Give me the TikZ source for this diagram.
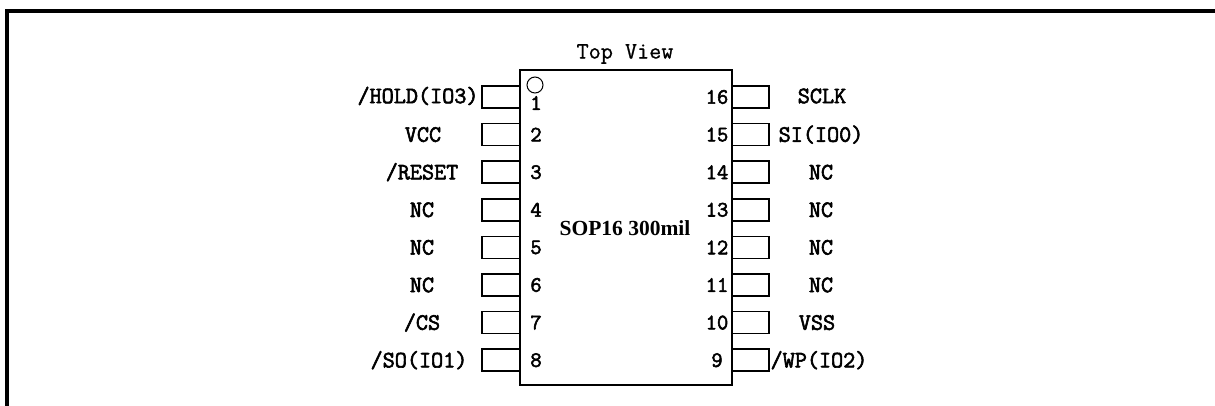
\documentclass[tikz,border=0pt]{standalone}
\usepackage{fontspec}
\setmainfont{Liberation Serif}
\setmonofont{Latin Modern Mono}
\newfontfamily\pinfont[FakeBold=2.5]{Latin Modern Mono}
\newfontfamily\titlefont[FakeBold=0.8]{Latin Modern Mono}
\usepackage{tikz,pgf}
\tikzset{
   outline/.style={line width=4pt, draw=black},
   chip/.style={line width=1.5pt, draw=black},
   pin/.style={line width=1.5pt, draw=black},
   pinlabel/.style={font=\pinfont\fontsize{23.5}{23.5}\selectfont, inner sep=0pt},
   pinnum/.style={font=\pinfont\fontsize{22}{22}\selectfont, inner sep=0pt},
   }
\begin{document}
\begin{tikzpicture}[x=1pt,y=-1pt]
            \useasboundingbox (0,0) rectangle (1215,406);
            \draw[outline](7,406)--(7,11)--(1215,11);
            \draw[chip](520,70)rectangle(732,385);
            \draw[line width=1pt] (535,85) circle (8);
            \node[font=\titlefont\fontsize{23.5}{23.5}\selectfont, inner sep=0pt] (title) at (625,54) {Top View};
            \node[font=\bfseries\fontsize{21.5}{21.5}\selectfont, inner sep=0pt] (package) at (625,228) {SOP16 300mil};
            % left side
            \draw[pin](520,86)--(482,86)--(482,108)--(520,108);
            \draw[pin](520,123.6)--(482,123.6)--(482,145.6)--(520,145.6);
            \draw[pin](520,161.2)--(482,161.2)--(482,183.2)--(520,183.2);
            \draw[pin](520,198.8)--(482,198.8)--(482,220.8)--(520,220.8);
            \draw[pin](520,236.4)--(482,236.4)--(482,258.4)--(520,258.4);
            \draw[pin](520,274)--(482,274)--(482,296)--(520,296);
            \draw[pin](520,311.6)--(482,311.6)--(482,333.6)--(520,333.6);
            \draw[pin](520,349.2)--(482,349.2)--(482,371.2)--(520,371.2);
            \node[pinnum] (n1) at (536,103) {1};
            \node[pinnum] (n2) at (536,134.6) {2};
            \node[pinnum] (n3) at (536,172.2) {3};
            \node[pinnum] (n4) at (536,209.8) {4};
            \node[pinnum] (n5) at (536,247.4) {5};
            \node[pinnum] (n6) at (536,285) {6};
            \node[pinnum] (n7) at (536,322.6) {7};
            \node[pinnum] (n8) at (536,360.2) {8};
            \node[pinlabel] (hold) at (418,96) {/HOLD(IO3)};
            \node[pinlabel] (vcc) at (423,134.6) {VCC};
            \node[pinlabel] (reset) at (422,172.2) {/RESET};
            \node[pinlabel] (nc4) at (422,209.8) {NC};
            \node[pinlabel] (nc5) at (422,247.4) {NC};
            \node[pinlabel] (nc6) at (422,285) {NC};
            \node[pinlabel] (cs) at (422,322.6) {/CS};
            \node[pinlabel] (so) at (419,360.2) {/SO(IO1)};
            % right side
            \draw[pin](732,86)--(769,86)--(769,108)--(732,108);
            \draw[pin](732,123.6)--(769,123.6)--(769,145.6)--(732,145.6);
            \draw[pin](732,161.2)--(769,161.2)--(769,183.2)--(732,183.2);
            \draw[pin](732,198.8)--(769,198.8)--(769,220.8)--(732,220.8);
            \draw[pin](732,236.4)--(769,236.4)--(769,258.4)--(732,258.4);
            \draw[pin](732,274)--(769,274)--(769,296)--(732,296);
            \draw[pin](732,311.6)--(769,311.6)--(769,333.6)--(732,333.6);
            \draw[pin](732,349.2)--(769,349.2)--(769,371.2)--(732,371.2);
            \node[pinnum] (n16) at (717,97) {16};
            \node[pinnum] (n15) at (717,134.6) {15};
            \node[pinnum] (n14) at (717,172.2) {14};
            \node[pinnum] (n13) at (717,209.8) {13};
            \node[pinnum] (n12) at (717,247.4) {12};
            \node[pinnum] (n11) at (717,285) {11};
            \node[pinnum] (n10) at (717,322.6) {10};
            \node[pinnum] (n9) at (717,360.2) {9};
            \node[pinlabel] (sclk) at (822,96) {SCLK};
            \node[pinlabel] (si) at (821,134.6) {SI(IO0)};
            \node[pinlabel] (nc14) at (821,172.2) {NC};
            \node[pinlabel] (nc13) at (821,209.8) {NC};
            \node[pinlabel] (nc12) at (821,247.4) {NC};
            \node[pinlabel] (nc11) at (821,285) {NC};
            \node[pinlabel] (vss) at (817,322.6) {VSS};
            \node[pinlabel] (wp) at (819,360.2) {/WP(IO2)};
        \end{tikzpicture}
\end{document}
